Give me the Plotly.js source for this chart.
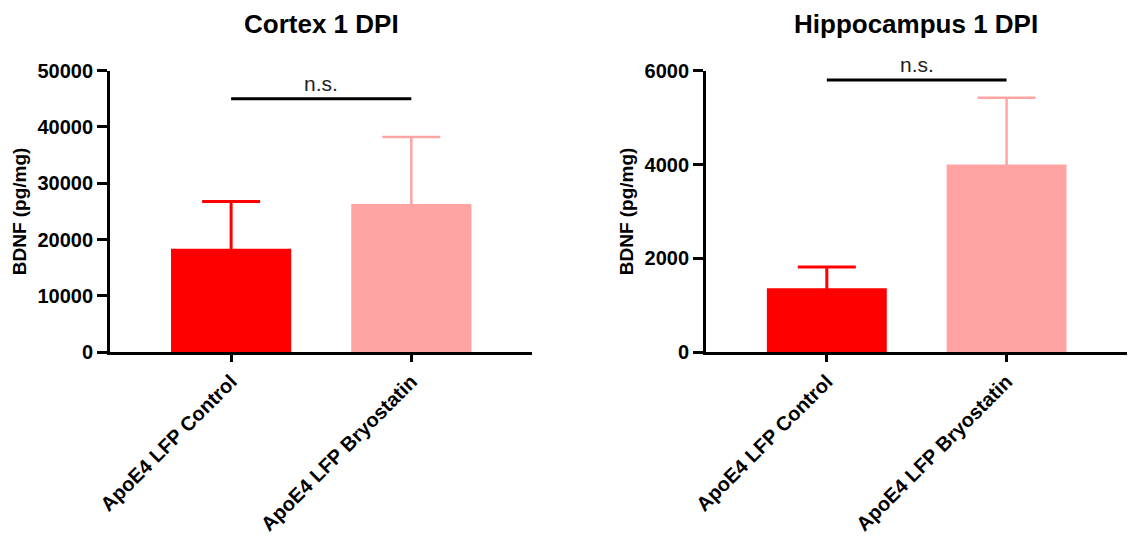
<!DOCTYPE html>
<html>
<head>
<meta charset="utf-8">
<script src="https://cdn.plot.ly/plotly-3.0.1.min.js"></script>
<style>html,body{margin:0;padding:0;background:#fff;}#chart{width:1132px;height:538px;}</style>
</head>
<body>
<div id="chart"></div>
<script>
const categories = ["ApoE4 LFP Control", "ApoE4 LFP Bryostatin"];
const cortexMean = [18350, 26300];
const cortexErr = [8400, 11900];
const hippoMean = [1360, 4000];
const hippoErr = [455, 1425];
const cortexTicks = [0, 10000, 20000, 30000, 40000, 50000];
const hippoTicks = [0, 2000, 4000, 6000];
const panelTitles = ["Cortex 1 DPI", "Hippocampus 1 DPI"];
const yTitle = "BDNF (pg/mg)";
const sigLabel = "n.s.";
const cortexSigY = 45000;
const hippoSigY = 5800;

const colors = ["#FF0000", "#FFA3A3"];
const errWidths = [3, 2.5];
const FONT = "Liberation Sans, Arial, sans-serif";

const H = 538;
const yDomain = [0.3455, 0.8686];
const plotPx = (yDomain[1] - yDomain[0]) * H;

const traces = [];
[[cortexMean, cortexErr, 'x', 'y', 50000], [hippoMean, hippoErr, 'x2', 'y2', 6000]].forEach(([m, e, xa, ya, top]) => {
  // tuck the lower error-bar cap ~3px inside the bar so only the upper whisker shows
  const hidden = top / plotPx * 3;
  categories.forEach((c, i) => {
    traces.push({
      type: 'bar', x: [c], y: [m[i]], xaxis: xa, yaxis: ya,
      width: [0.667],
      marker: {color: colors[i], line: {width: 0}},
      error_y: {type: 'data', array: [e[i]], arrayminus: [hidden], symmetric: false,
                color: colors[i], thickness: errWidths[i], width: 29},
      showlegend: false, hoverinfo: 'none'
    });
  });
});

function yaxisDef(ticks, rng) {
  return {
    domain: yDomain, range: rng, tickvals: ticks, tickformat: 'd',
    showgrid: false, zeroline: false, showline: true, linecolor: '#000', linewidth: 3,
    ticks: 'outside', ticklen: 10, tickwidth: 3, tickcolor: '#000',
    tickfont: {family: FONT, size: 20, color: '#000', weight: 'bold'},
    title: {text: yTitle, font: {family: FONT, size: 19, color: '#000', weight: 'bold'}, standoff: 6},
    fixedrange: true
  };
}
function xaxisDef(domain) {
  return {
    domain: domain, range: [-0.672, 1.67], type: 'category',
    showgrid: false, zeroline: false, showline: true, linecolor: '#000', linewidth: 3,
    ticks: 'outside', ticklen: 7, tickwidth: 3, tickcolor: '#000', tickangle: -45,
    tickfont: {family: FONT, size: 20, color: '#000', weight: 'bold'},
    fixedrange: true
  };
}

const layout = {
  width: 1132, height: H,
  margin: {l: 0, r: 0, t: 0, b: 0},
  paper_bgcolor: '#fff', plot_bgcolor: '#fff',
  barmode: 'overlay',
  xaxis: Object.assign(xaxisDef([0.0972, 0.4700]), {anchor: 'y'}),
  yaxis: Object.assign(yaxisDef(cortexTicks, [0, 50000]), {anchor: 'x'}),
  xaxis2: Object.assign(xaxisDef([0.6237, 0.9956]), {anchor: 'y2'}),
  yaxis2: Object.assign(yaxisDef(hippoTicks, [0, 6000]), {anchor: 'x2'}),
  shapes: [
    {type: 'line', xref: 'x', yref: 'y', x0: 0, x1: 1, y0: cortexSigY, y1: cortexSigY, line: {color: '#000', width: 3}},
    {type: 'line', xref: 'x2', yref: 'y2', x0: 0, x1: 1, y0: hippoSigY, y1: hippoSigY, line: {color: '#000', width: 3}}
  ],
  annotations: [
    {xref: 'x', yref: 'y', x: 0.5, y: cortexSigY, yanchor: 'bottom', yshift: 2, showarrow: false, text: sigLabel,
     font: {family: FONT, size: 21, color: '#222'}},
    {xref: 'x2', yref: 'y2', x: 0.5, y: hippoSigY, yanchor: 'bottom', yshift: 2, showarrow: false, text: sigLabel,
     font: {family: FONT, size: 21, color: '#222'}},
    {xref: 'paper', yref: 'paper', x: 0.2836, y: 1 - 24/H, yanchor: 'middle', xanchor: 'center', showarrow: false,
     text: panelTitles[0], font: {family: FONT, size: 26, color: '#000', weight: 'bold'}},
    {xref: 'paper', yref: 'paper', x: 0.8093, y: 1 - 24/H, yanchor: 'middle', xanchor: 'center', showarrow: false,
     text: panelTitles[1], font: {family: FONT, size: 26, color: '#000', weight: 'bold'}}
  ]
};

Plotly.newPlot('chart', traces, layout, {displayModeBar: false, staticPlot: true});
</script>
</body>
</html>
